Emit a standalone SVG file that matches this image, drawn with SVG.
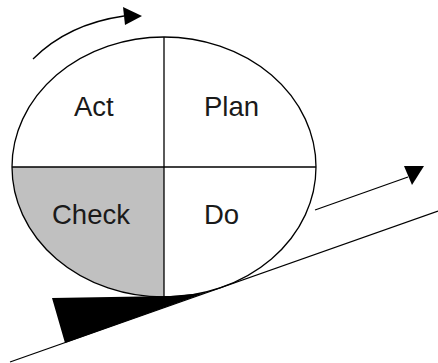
<svg xmlns="http://www.w3.org/2000/svg" width="438" height="363" viewBox="0 0 438 363">
<style>
.ln{fill:none;stroke:#000;stroke-width:1.3}
.lbl{font-family:"Liberation Sans",Arial,sans-serif;font-size:27.5px;fill:#1a1a1a}
</style>
<rect width="438" height="363" fill="#fff"/>
<g id="wheel">
<path d="M12,167 L164,167 L164,297 A152,130 0 0 1 12,167 Z" fill="#c0c0c0"/>
<ellipse cx="164" cy="167" rx="152" ry="130" class="ln"/>
<line x1="12" y1="167" x2="316" y2="167" class="ln"/>
<line x1="164" y1="37" x2="164" y2="297" class="ln"/>
</g>
<g id="act"><text x="74" y="116" class="lbl">Act</text></g>
<g id="plan"><text x="204" y="116" class="lbl">Plan</text></g>
<g id="check"><text x="52" y="224" class="lbl">Check</text></g>
<g id="do"><text x="204" y="224" class="lbl">Do</text></g>
<g id="wedge"><polygon points="52,298 65,343 205,293 170,296" fill="#000"/></g>
<g id="connectors">
<line x1="10" y1="362" x2="438" y2="211" class="ln"/>
<path d="M33,59 Q68,24 124,16" class="ln"/>
<polygon points="123,7 142,16 125,25" fill="#000"/>
<line x1="315" y1="210" x2="408" y2="177" class="ln"/>
<polygon points="404,166 424,166 412,185" fill="#000"/>
</g>
</svg>
